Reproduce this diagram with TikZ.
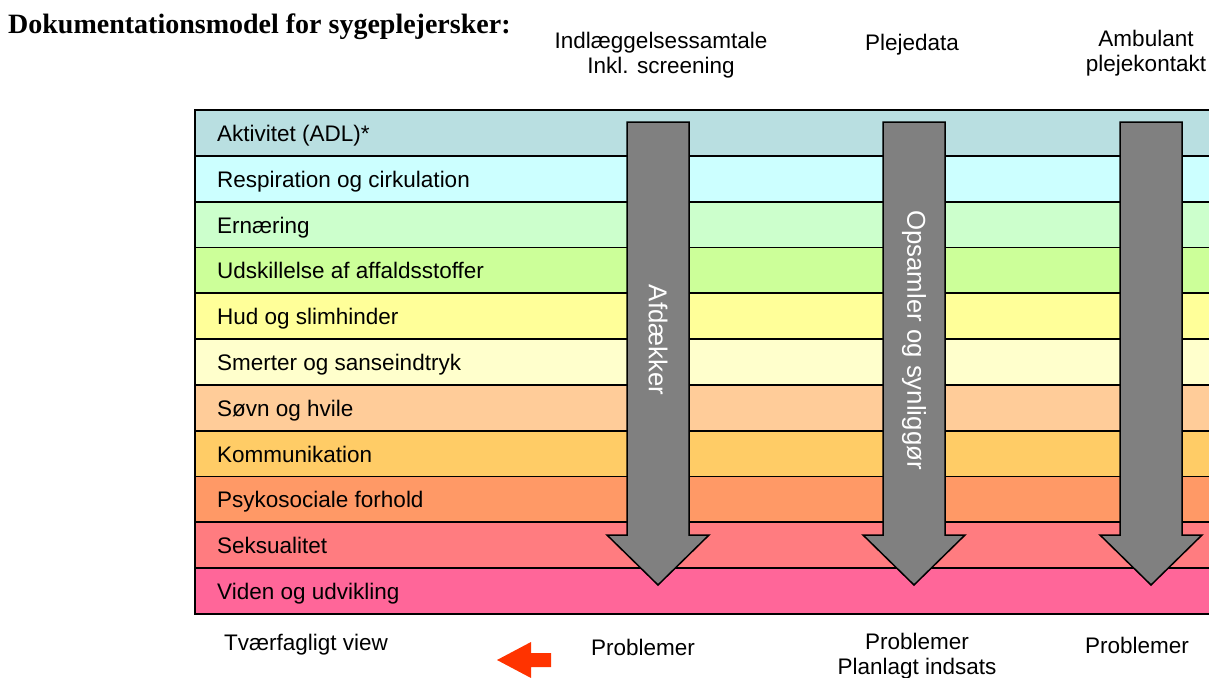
\documentclass[tikz,border=0pt]{standalone}
\usepackage{fontspec}
\setmainfont{Liberation Sans}
\newfontfamily\titlefont{Liberation Serif}
\usetikzlibrary{calc}

\definecolor{adlblue}{HTML}{B9DFE1}
\definecolor{respcyan}{HTML}{CCFFFF}
\definecolor{ernmint}{HTML}{CCFFCC}
\definecolor{udsgreen}{HTML}{CCFF99}
\definecolor{hudyellow}{HTML}{FFFF99}
\definecolor{smecream}{HTML}{FFFFCC}
\definecolor{sovnpeach}{HTML}{FFCC99}
\definecolor{komgold}{HTML}{FFCC66}
\definecolor{psyorange}{HTML}{FF9966}
\definecolor{sekssalmon}{HTML}{FF7C80}
\definecolor{vidpink}{HTML}{FF6699}
\definecolor{arrowgrey}{HTML}{808080}
\definecolor{backred}{HTML}{FF3300}

\tikzset{
  band/.style={draw=black, line width=1.8pt},
  bandlabel/.style={anchor=base west, inner sep=0pt, font=\fontsize{22.5}{26}\selectfont},
  steplabel/.style={align=center, inner sep=0pt, font=\fontsize{22.5}{25}\selectfont},
  blockarrow/.style={draw=black, fill=arrowgrey, line width=1.5pt, line join=miter},
  arrowtext/.style={rotate=-90, text=white, inner sep=0pt, font=\fontsize{25.8}{30}\selectfont}
}

\begin{document}
\begin{tikzpicture}[x=1pt,y=-1pt]
\useasboundingbox (0,0) rectangle (1209,677);
\clip (0,0) rectangle (1209,677);

% title
\node[anchor=base west, inner sep=0pt, font=\titlefont\bfseries\fontsize{28}{32}\selectfont] (title) at (8,34) {Dokumentationsmodel for sygeplejersker:};

% bands
\foreach \name/\col [count=\i] in {Aktivitet (ADL)*/adlblue, Respiration og cirkulation/respcyan,
    Ernæring/ernmint, Udskillelse af affaldsstoffer/udsgreen, Hud og slimhinder/hudyellow,
    Smerter og sanseindtryk/smecream, Søvn og hvile/sovnpeach, Kommunikation/komgold,
    Psykosociale forhold/psyorange, Seksualitet/sekssalmon, Viden og udvikling/vidpink}{
  \draw[band, fill=\col] (195,{110+(\i-1)*45.8}) rectangle (1230,{110+\i*45.8});
  \node[bandlabel] (band\i) at (217,{110+(\i-0.5)*45.8+8.5}) {\name};
}

% grey arrows
\foreach \x/\lbl [count=\j] in {658/Afdækker, 914/Opsamler og synliggør, 1151/}{
  \draw[blockarrow] (\x-31,122) -- (\x+31,122) -- (\x+31,535) -- (\x+51,535)
    -- (\x,585) -- (\x-51,535) -- (\x-31,535) -- cycle;
  \node[arrowtext] (arr\j) at (\x,340) {\lbl};
}

% column headings
\node[steplabel] (indl) at (661,55) {Indlæggelsessamtale\\Inkl. screening};
\node[steplabel] (pleje) at (912,45) {Plejedata};
\node[steplabel] (amb) at (1146,53) {Ambulant\\plejekontakt};

% bottom texts
\node[steplabel] (tvaer) at (306,645) {Tværfagligt view};
\node[steplabel] (prob1) at (643,647) {Problemer};
\node[steplabel, anchor=north] (prob2) at (917,633) {Problemer\\Planlagt indsats};
\node[steplabel] (prob3) at (1137,645) {Problemer};

% red arrow
\fill[backred] (497,660) -- (531,642) -- (531,653) -- (551,653) -- (551,667)
  -- (531,667) -- (531,678) -- cycle;
\end{tikzpicture}
\end{document}
